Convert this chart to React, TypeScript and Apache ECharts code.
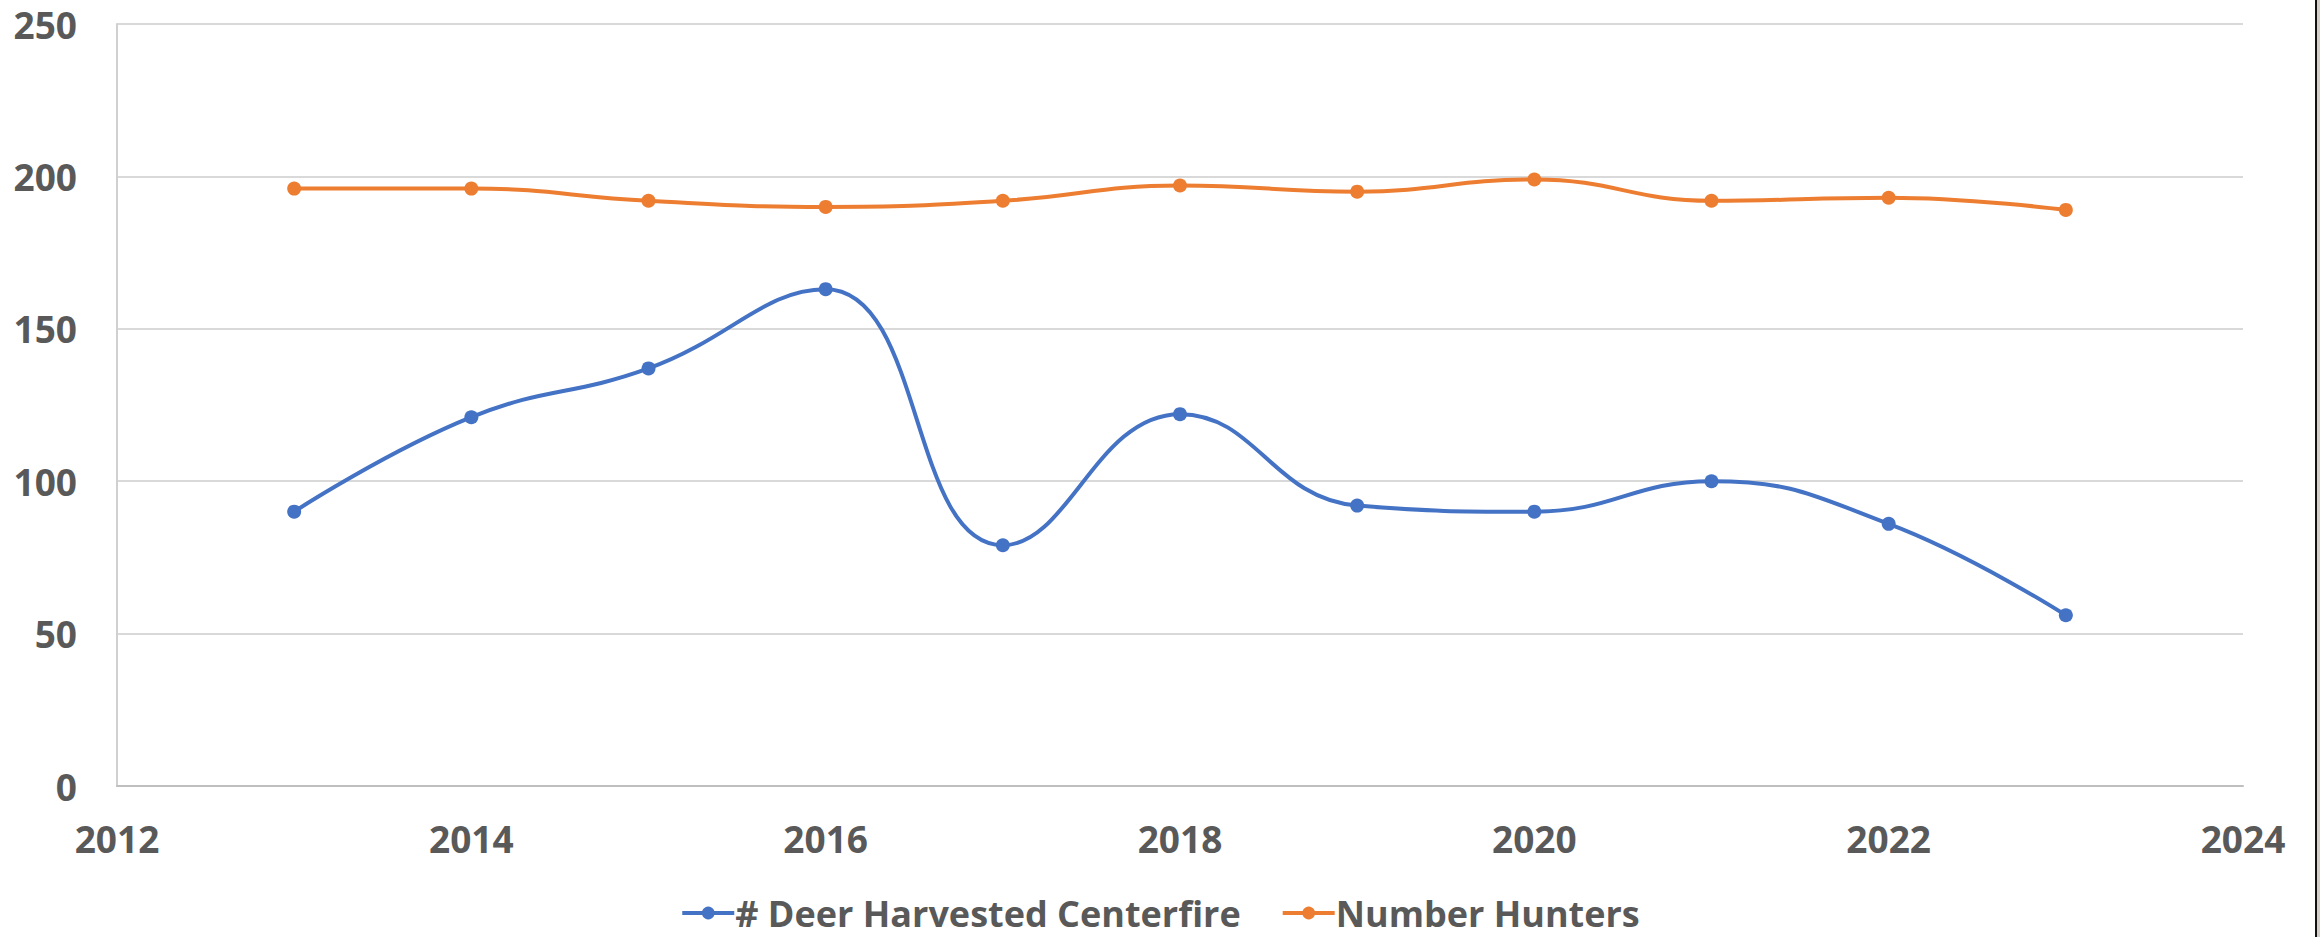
import React, { useEffect, useRef } from "react";
import * as echarts from "echarts";

const years = [2013, 2014, 2015, 2016, 2017, 2018, 2019, 2020, 2021, 2022, 2023];
const deerHarvested = [90, 121, 137, 163, 79, 122, 92, 90, 100, 86, 56];
const numberHunters = [196, 196, 192, 190, 192, 197, 195, 199, 192, 193, 189];
const seriesNames = ["# Deer Harvested Centerfire", "Number Hunters"];
const seriesColors = ["#4472C4", "#ED7D31"];

export default function App() {
  const ref = useRef<HTMLDivElement>(null);
  useEffect(() => {
    document.body.style.margin = "0";
    if (!ref.current) return;
    const chart = echarts.init(ref.current, undefined, { renderer: "svg" });
    const font = "'Open Sans', 'Noto Sans', sans-serif";
    chart.setOption({
      animation: false,
      backgroundColor: "#FFFFFF",
      grid: { left: 117, right: 77, top: 24, bottom: 151, containLabel: false },
      legend: {
        top: 890,
        left: "center",
        itemWidth: 52,
        itemHeight: 16,
        itemGap: 40,
        lineStyle: { width: 4 },
        textStyle: { fontFamily: font, fontWeight: "bold", fontSize: 36, color: "#595959", padding: [0, 0, 0, -4] },
        data: seriesNames,
      },
      xAxis: {
        type: "value",
        min: 2012,
        max: 2024,
        interval: 2,
        axisLine: { show: true, lineStyle: { color: "#BFBFBF", width: 2 } },
        axisTick: { show: false },
        splitLine: { show: false },
        axisLabel: {
          margin: 34,
          fontFamily: font,
          fontWeight: "bold",
          fontSize: 37,
          color: "#595959",
          formatter: (v: number) => String(v),
        },
      },
      yAxis: {
        type: "value",
        min: 0,
        max: 250,
        interval: 50,
        axisLine: { show: true, lineStyle: { color: "#D0D0D0", width: 2 } },
        axisTick: { show: false },
        splitLine: { show: true, lineStyle: { color: "#D9D9D9", width: 2 } },
        axisLabel: { margin: 40, fontFamily: font, fontWeight: "bold", fontSize: 37, color: "#595959" },
      },
      graphic: [
        { type: "rect", left: 2315, top: 0, shape: { width: 2, height: 937 }, style: { fill: "#111111" } },
        { type: "rect", left: 2317, top: 0, shape: { width: 3, height: 937 }, style: { fill: "#D4D0C8" } },
      ],
      series: [
        {
          name: seriesNames[0],
          type: "line",
          smooth: 0.45,
          data: years.map((y, i) => [y, deerHarvested[i]]),
          symbol: "circle",
          symbolSize: 14,
          lineStyle: { color: seriesColors[0], width: 4 },
          itemStyle: { color: seriesColors[0] },
        },
        {
          name: seriesNames[1],
          type: "line",
          smooth: 0.45,
          data: years.map((y, i) => [y, numberHunters[i]]),
          symbol: "circle",
          symbolSize: 14,
          lineStyle: { color: seriesColors[1], width: 4 },
          itemStyle: { color: seriesColors[1] },
        },
      ],
    });
    return () => chart.dispose();
  }, []);
  return <div ref={ref} style={{ width: 2320, height: 937 }} />;
}
